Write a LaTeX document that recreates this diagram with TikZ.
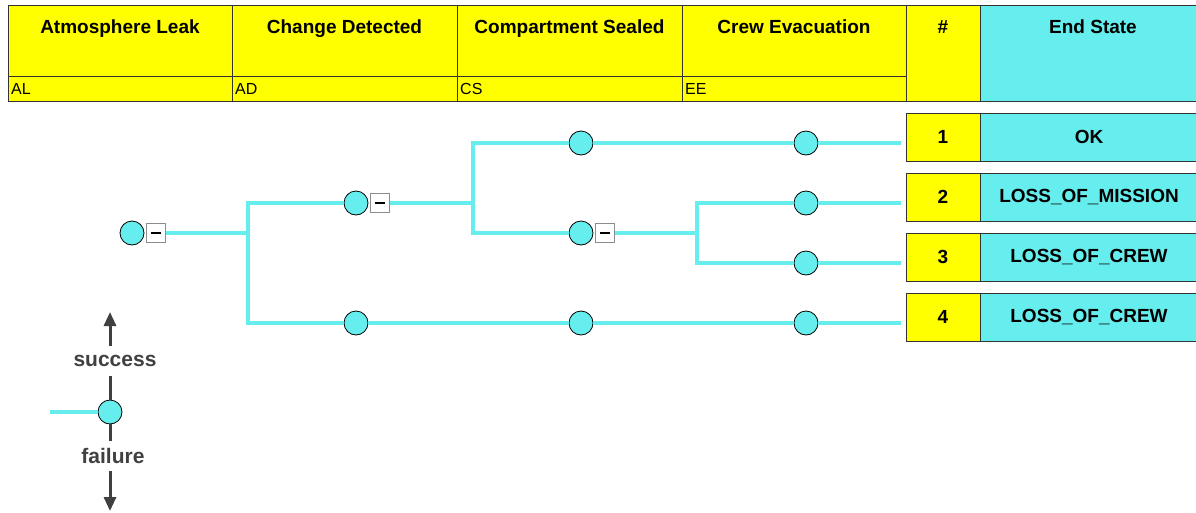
\documentclass[tikz,border=0pt]{standalone}
\usepackage{fontspec}
\setmainfont{Liberation Sans}
\usetikzlibrary{arrows.meta,calc,positioning}
\definecolor{HeadClr}{rgb}{1,1,0}
\definecolor{EndClr}{rgb}{0.4,0.933,0.933}
\definecolor{LegClr}{rgb}{0.25,0.25,0.25}
\definecolor{FoldClr}{rgb}{0.55,0.55,0.55}

\begin{document}
\begin{tikzpicture}[x=1pt,y=-1pt,
  title/.style={font=\bfseries\fontsize{19}{21}\selectfont,anchor=base},
  code/.style={font=\fontsize{16}{18}\selectfont,anchor=base west,inner sep=1pt},
  branch/.style={line width=4pt,color=EndClr},
  event/.style={circle,draw=black,fill=EndClr,line width=0.8pt,minimum size=24pt,inner sep=0pt},
  fold/.style={draw=FoldClr,fill=white,line width=0.9pt,minimum size=19pt,inner sep=0pt,
    path picture={\draw[black,line width=1.2pt] ($(path picture bounding box.center)+(-5,0)$) -- ($(path picture bounding box.center)+(5,0)$);}},
  numbox/.style={draw=black!80,fill=HeadClr,line width=0.9pt,minimum width=74pt,minimum height=48pt,inner sep=0pt,font=\bfseries\fontsize{19}{21}\selectfont},
  endbox/.style={draw=black!80,fill=EndClr,line width=0.9pt,minimum width=218pt,minimum height=48pt,inner sep=0pt,font=\bfseries\fontsize{19}{21}\selectfont},
  legtext/.style={text=LegClr,font=\bfseries\fontsize{21}{23}\selectfont,inner sep=0pt},
  legline/.style={line width=3pt,color=LegClr},
  legarrow/.style={legline,-{Triangle[length=14pt,width=12pt]}}]
\useasboundingbox (0,0) rectangle (1196,512);

\foreach \xa/\xb/\t/\c [count=\i] in {8/232/Atmosphere Leak/AL,232/457/Change Detected/AD,457/682/Compartment Sealed/CS,682/906/Crew Evacuation/EE}{
  \filldraw[fill=HeadClr,draw=black!80,line width=1pt] (\xa,5) rectangle (\xb,76);
  \filldraw[fill=HeadClr,draw=black!80,line width=1pt] (\xa,76) rectangle (\xb,101);
  \node[title] (h\i) at ({(\xa+\xb)/2},33) {\t};
  \node[code] (c\i) at (\xa+2,94) {\c};
}
\filldraw[fill=HeadClr,draw=black!80,line width=1pt] (906,5) rectangle (980,101);
\filldraw[fill=EndClr,draw=black!80,line width=1pt] (980,5) rectangle (1198,101);
\node[title] (hnum) at (943,33) {\#};
\node[title] (hend) at (1093,33) {End State};

\foreach \n/\s [count=\i] in {1/OK,2/LOSS\_OF\_MISSION,3/LOSS\_OF\_CREW,4/LOSS\_OF\_CREW}{
  \node[numbox] (n\i) at (943,{137+60*(\i-1)}) {\n};
  \node[endbox] (e\i) at (1089,{137+60*(\i-1)}) {\s};
  \coordinate (t\i) at (901,{143+60*(\i-1)});
}

\node[event] (al) at (132,233) {};
\node[fold,right=2pt of al] (alm) {};
\node[event] (ad) at (356,203) {};
\node[fold,right=2pt of ad] (adm) {};
\node[event] (ad2) at (356,323) {};
\node[event] (cs1) at (581,143) {};
\node[event] (cs2) at (581,233) {};
\node[fold,right=2pt of cs2] (cs2m) {};
\node[event] (cs3) at (581,323) {};
\node[event] (ee1) at (806,143) {};
\node[event] (ee2) at (806,203) {};
\node[event] (ee3) at (806,263) {};
\node[event] (ee4) at (806,323) {};

\coordinate (j1) at (248,233);
\coordinate (j2) at (473,203);
\coordinate (j3) at (697,233);

\draw[branch] (alm) -- (j1);
\draw[branch] (ad) -| (j1) |- (ad2);
\draw[branch] (adm) -- (j2);
\draw[branch] (cs1) -| (j2) |- (cs2);
\draw[branch] (cs2m) -- (j3);
\draw[branch] (ee2) -| (j3) |- (ee3);
\draw[branch] (cs1) -- (ee1) -- (t1);
\draw[branch] (ee2) -- (t2);
\draw[branch] (ee3) -- (t3);
\draw[branch] (ad2) -- (cs3) -- (ee4) -- (t4);

\node[event] (lg) at (110,412) {};
\coordinate (lgin) at (50,412);
\coordinate (lgup) at (110,312);
\coordinate (lgdown) at (110,511);
\node[legtext] (suc) at (115,361) {success};
\node[legtext] (fai) at (113,456) {failure};
\draw[branch] (lgin) -- (lg);
\draw[legline] (lg) -- (lg |- {$(suc.south)+(0,9)$});
\draw[legarrow] (lgup |- {$(suc.north)+(0,-9)$}) -- (lgup);
\draw[legline] (lg) -- (lg |- {$(fai.north)+(0,-7)$});
\draw[legarrow] (lgdown |- {$(fai.south)+(0,7)$}) -- (lgdown);

\end{tikzpicture}
\end{document}
